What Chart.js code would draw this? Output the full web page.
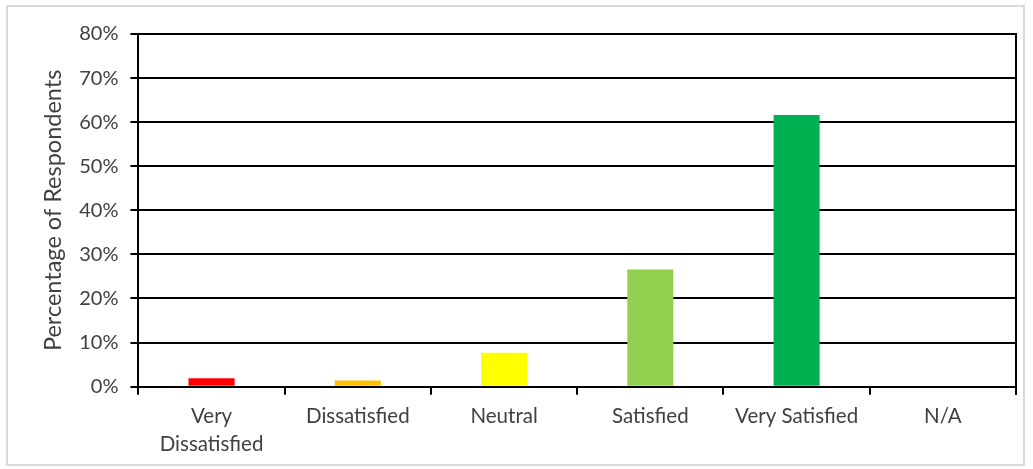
<!DOCTYPE html>
<html>
<head>
<meta charset="utf-8">
<script src="https://cdn.jsdelivr.net/npm/chart.js@4/dist/chart.umd.min.js"></script>
<style>
  html, body { margin: 0; padding: 0; background: #fff; }
  #wrap { position: relative; width: 1033px; height: 469px; }
  #frame { position: absolute; left: 6px; top: 5px; width: 1019px; height: 461px; border: 2px solid #d9d9d9; box-sizing: border-box; }
  canvas { position: absolute; left: 0; top: 0; }
</style>
</head>
<body>
<div id="wrap">
  <div id="frame"></div>
  <canvas id="c" width="1033" height="469"></canvas>
</div>
<script>
const categories = [['Very', 'Dissatisfied'], 'Dissatisfied', 'Neutral', 'Satisfied', 'Very Satisfied', 'N/A'];
const values = [0.019, 0.014, 0.077, 0.266, 0.616, 0];
const barColors = ['#FF0000', '#FFC000', '#FFFF00', '#92D050', '#00B050', '#888888'];
const yTicks = [0, 0.1, 0.2, 0.3, 0.4, 0.5, 0.6, 0.7, 0.8];
const yTitle = 'Percentage of Respondents';

const FONT = 'Lato, "Open Sans", sans-serif';

const rightBorder = {
  id: 'rightBorder',
  afterDraw(chart) {
    const { ctx, chartArea } = chart;
    ctx.save();
    ctx.strokeStyle = '#000';
    ctx.lineWidth = 2;
    ctx.beginPath();
    ctx.moveTo(chartArea.right, chartArea.top - 1);
    ctx.lineTo(chartArea.right, chartArea.bottom + 8);
    ctx.stroke();
    ctx.restore();
  }
};

new Chart(document.getElementById('c'), {
  type: 'bar',
  data: {
    labels: categories,
    datasets: [{
      data: values,
      backgroundColor: barColors,
      borderWidth: 0,
      barPercentage: 0.63,
      categoryPercentage: 0.5
    }]
  },
  options: {
    responsive: false,
    animation: false,
    layout: { padding: { left: 35, right: 17, top: 34, bottom: 3 } },
    plugins: { legend: { display: false }, tooltip: { enabled: false } },
    scales: {
      x: {
        offset: true,
        grid: { offset: true, drawOnChartArea: false, color: '#000', lineWidth: 2, tickLength: 8 },
        border: { color: '#000', width: 2 },
        ticks: { color: '#404040', font: { family: FONT, size: 20.5, lineHeight: 1.35 }, padding: 8, maxRotation: 0 }
      },
      y: {
        min: 0, max: 0.8,
        afterBuildTicks(axis) { axis.ticks = yTicks.map(v => ({ value: v })); },
        grid: { color: '#000', lineWidth: 2, tickLength: 8 },
        border: { color: '#000', width: 2 },
        ticks: {
          color: '#404040',
          font: { family: FONT, size: 20 },
          padding: 12,
          callback: v => Math.round(v * 100) + '%'
        },
        title: {
          display: true, text: yTitle, color: '#404040',
          font: { family: FONT, size: 23.5 },
          padding: { top: 4, bottom: 0 }
        }
      }
    }
  },
  plugins: [rightBorder]
});
</script>
</body>
</html>
